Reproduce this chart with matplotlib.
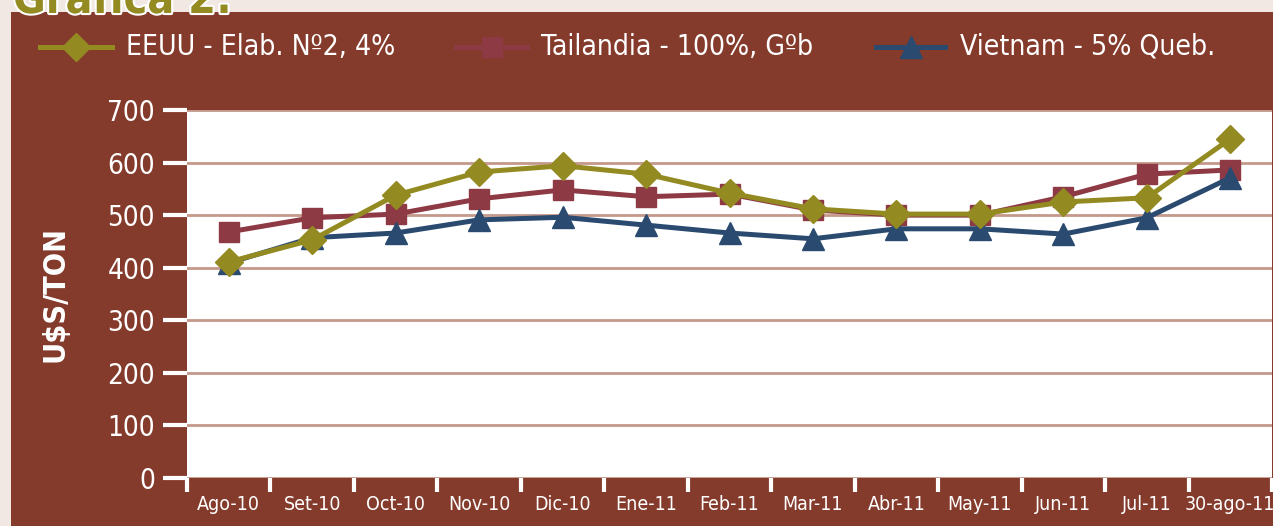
import matplotlib.pyplot as plt
import matplotlib.patheffects as pe
from matplotlib.patches import Rectangle
from matplotlib.lines import Line2D

months = ['Ago-10', 'Set-10', 'Oct-10', 'Nov-10', 'Dic-10', 'Ene-11', 'Feb-11',
          'Mar-11', 'Abr-11', 'May-11', 'Jun-11', 'Jul-11', '30-ago-11']
eeuu = [411, 453, 538, 582, 594, 578, 542, 512, 502, 502, 525, 533, 645]
tailandia = [468, 495, 502, 531, 548, 535, 540, 510, 500, 500, 535, 578, 586]
vietnam = [409, 457, 466, 491, 496, 481, 466, 455, 474, 474, 464, 495, 571]
series_names = ['EEUU - Elab. Nº2, 4%', 'Tailandia - 100%, Gºb', 'Vietnam - 5% Queb.']

BROWN = '#843b2c'
OLIVE = '#948a22'
RED = '#8e3a45'
BLUE = '#2a4a70'
GRID = '#c4988a'

plt.rcParams['font.family'] = ['DejaVu Sans']
plt.rcParams['font.stretch'] = 'condensed'

W, H = 1273, 526
fig = plt.figure(figsize=(W / 100, H / 100), dpi=100)
fig.patch.set_facecolor('#f1e8e3')
fig.patches.append(Rectangle((11 / W, 0), 1, (H - 12) / H, transform=fig.transFigure,
                             facecolor=BROWN, edgecolor='none', zorder=-5))

# title is cut off at the top in the reference too
fig.text(13 / W, 1 - 13 / H, 'Gráfica 2:', color=OLIVE, fontsize=32, fontweight='bold',
         va='baseline', ha='left',
         path_effects=[pe.withStroke(linewidth=3, foreground='white')])

ax = fig.add_axes([187 / W, (H - 478) / H, (1272 - 187) / W, (478 - 110) / H])
ax.set_facecolor('white')
x = range(len(months))
ax.plot(x, tailandia, color=RED, lw=3.6, marker='s', ms=15, zorder=3)
ax.plot(x, vietnam, color=BLUE, lw=3.6, marker='^', ms=16, zorder=3)
ax.plot(x, eeuu, color=OLIVE, lw=3.6, marker='D', ms=14, zorder=4)

ax.set_xlim(-0.5, len(months) - 0.5)
ax.set_ylim(0, 700)
ax.set_yticks(range(0, 701, 100))
ax.yaxis.grid(True, color=GRID, lw=2)
ax.set_axisbelow(True)
for s in ax.spines.values():
    s.set_visible(False)

ax.set_xticks(list(x))
ax.set_xticklabels(months, fontsize=14, color='white')
ax.set_xticks([i - 0.5 for i in range(len(months) + 1)], minor=True)
ax.tick_params(axis='x', which='major', length=0, pad=12)
ax.tick_params(axis='x', which='minor', length=10, width=3, color='white', direction='out')
ax.tick_params(axis='y', length=17, width=3, color='white', labelsize=20,
               labelcolor='white', pad=6)
ax.set_ylabel('U$S/TON', fontsize=22, fontweight='bold', color='white', labelpad=27)

# legend drawn by hand so the entries sit where the reference puts them
entries = [(OLIVE, 'D', 14, 40, 112, 126),
           (RED, 's', 15, 456, 527, 541),
           (BLUE, '^', 16, 876, 945, 960)]
ly = 1 - 47 / H
for (color, mk, ms, x0, x1, tx), name in zip(entries, series_names):
    fig.add_artist(Line2D([x0 / W, x1 / W], [ly, ly], transform=fig.transFigure,
                          color=color, lw=3.6))
    fig.add_artist(Line2D([(x0 + x1) / 2 / W], [ly], transform=fig.transFigure,
                          color=color, marker=mk, ms=ms, lw=0))
    fig.text(tx / W, ly, name, color='white', fontsize=20.3, va='center', ha='left')

fig.savefig('out.png', dpi=100, facecolor=fig.get_facecolor())
